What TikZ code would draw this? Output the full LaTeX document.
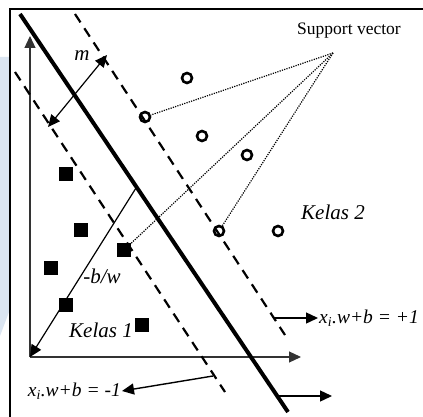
\documentclass[tikz,border=0pt]{standalone}
\usepackage{fontspec}
\setmainfont{Liberation Serif}
\usetikzlibrary{arrows.meta}
\definecolor{paleblue}{RGB}{219,229,241}
\tikzset{
  sq/.style={fill=black, inner sep=0pt, minimum size=13.5pt},
  ring/.style={circle, draw, line width=2.6pt, inner sep=0pt, minimum size=10pt},
  arr/.style={-{Triangle[length=12pt,width=11pt]}, line width=1.4pt},
  marg/.style={line width=2.2pt, dash pattern=on 10pt off 7pt},
  svline/.style={line width=1.2pt, dash pattern=on 1.2pt off 1.2pt},
  lbl/.style={font=\fontsize{21}{23}\selectfont\itshape, inner sep=1pt},
  eqlbl/.style={font=\fontsize{19.5}{22}\selectfont\itshape, inner sep=1pt},
}
\begin{document}
\begin{tikzpicture}[x=1pt, y=-1pt]
  \useasboundingbox (0,0) rectangle (423,417);
  % strip and frame
  \fill[paleblue] (0,57) -- (9,57) -- (9,312) -- (0,336) -- cycle;
  \draw[line width=2.4pt] (10,417) -- (10,9) -- (423,9);

  % axes
  \coordinate (o) at (30,357);
  \coordinate (ytop) at (30,36);
  \coordinate (xend) at (301,357);
  \draw[arr, line width=1.2pt, black!80] (o) -- (ytop);
  \draw[arr, line width=1.2pt, black!80] (o) -- (xend);

  % hyperplane and margins
  \coordinate (h1) at (20,14);  \coordinate (h2) at (288,412);
  \coordinate (u1) at (75,14);  \coordinate (u2) at (285,335);
  \coordinate (l1) at (15,72);  \coordinate (l2) at (225,392);
  \draw[line width=4pt] (h1) -- (h2);
  \draw[marg] (u1) -- (u2);
  \draw[marg] (l1) -- (l2);

  % data points
  \foreach \p [count=\k] in {(187,78),(145,117),(202,136),(247,155),(219,231),(278,231)}
    \node[ring] (c\k) at \p {};
  \foreach \p [count=\k] in {(66,174),(81,230),(124,250),(51,268),(66,305),(142,325)}
    \node[sq] (s\k) at \p {};

  % support vectors
  \node[font=\fontsize{17.5}{19}\selectfont] (svl) at (349,31) {Support vector};
  \coordinate (svp) at (333,53);
  \draw[svline] (svp) -- (c2);
  \draw[svline] (svp) -- (c5);
  \draw[svline] (svp) -- (s3);

  % margin and offset
  \coordinate (ma) at (48,127);
  \coordinate (mb) at (107,55);
  \draw[{Triangle[length=12pt,width=11pt]}-{Triangle[length=12pt,width=11pt]}, line width=1.2pt] (ma) -- (mb);
  \node[lbl] (mlbl) at (82,56) {m};
  \coordinate (bwp) at (136,188);
  \draw[arr, line width=1.2pt] (bwp) -- (o);
  \node[lbl] (bw) at (102,276) {-b/w};

  % class labels
  \node[lbl] (kls1) at (101,330) {Kelas 1};
  \node[lbl] (kls2) at (333,212) {Kelas 2};

  % equations
  \node[eqlbl, anchor=west] (eqp) at (318,318) {x\textsubscript{i}.w+b = +1};
  \node[eqlbl, anchor=east] (eqm) at (122,391) {x\textsubscript{i}.w+b = -1};
  \coordinate (pp) at (274,318);
  \draw[arr] (pp) -- (eqp.west);
  \coordinate (mp) at (213,376);
  \draw[arr] (mp) -- (eqm.east);
  \coordinate (hp) at (278,396);
  \coordinate (hpend) at (332,396);
  \draw[arr] (hp) -- (hpend);
\end{tikzpicture}
\end{document}
